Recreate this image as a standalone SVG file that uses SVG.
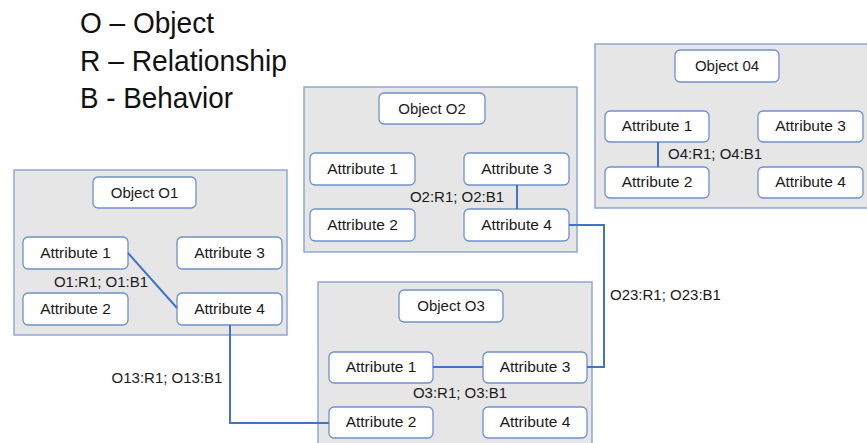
<svg xmlns="http://www.w3.org/2000/svg" width="867" height="443" viewBox="0 0 867 443">
<style>
.bg{fill:#fff}
.cont{fill:#e6e6e6;stroke:#8ea6d6;stroke-width:1.5}
.box{fill:#fff;stroke:#7090cc;stroke-width:1.3}
.t{font-family:"Liberation Sans",Arial,sans-serif;font-size:15px;fill:#1a1a1a;text-anchor:middle}
.l{font-family:"Liberation Sans",Arial,sans-serif;font-size:15px;fill:#1a1a1a}
.a{font-family:"Liberation Sans",Arial,sans-serif;font-size:15.5px;fill:#1a1a1a;text-anchor:middle}
.leg{font-family:"Liberation Sans",Arial,sans-serif;font-size:29px;fill:#111}
.c{fill:none;stroke:#4472c4;stroke-width:2}
</style>
<rect class="bg" x="0" y="0" width="867" height="443"/>
<g id="legend">
<text class="leg" x="80" y="33" textLength="134" lengthAdjust="spacingAndGlyphs">O – Object</text>
<text class="leg" x="80" y="71" textLength="207" lengthAdjust="spacingAndGlyphs">R – Relationship</text>
<text class="leg" x="80" y="108" textLength="153" lengthAdjust="spacingAndGlyphs">B - Behavior</text>
</g>
<g id="O1">
<rect class="cont" x="14" y="170" width="273" height="165"/>
<rect class="box" x="93" y="177" width="103" height="31" rx="5"/><text class="t" x="144.5" y="198">Object O1</text>
<rect class="box" x="23" y="237" width="105" height="32" rx="5"/><text class="a" x="75.5" y="258">Attribute 1</text>
<rect class="box" x="177" y="237" width="105" height="32" rx="5"/><text class="a" x="229.5" y="258">Attribute 3</text>
<rect class="box" x="23" y="293" width="105" height="32" rx="5"/><text class="a" x="75.5" y="314">Attribute 2</text>
<rect class="box" x="177" y="293" width="105" height="32" rx="5"/><text class="a" x="229.5" y="314">Attribute 4</text>
</g>
<g id="O2">
<rect class="cont" x="304" y="87" width="273" height="165"/>
<rect class="box" x="379" y="93" width="106" height="31" rx="5"/><text class="t" x="432" y="114">Object O2</text>
<rect class="box" x="310" y="153" width="105" height="32" rx="5"/><text class="a" x="362.5" y="174">Attribute 1</text>
<rect class="box" x="464" y="153" width="105" height="32" rx="5"/><text class="a" x="516.5" y="174">Attribute 3</text>
<rect class="box" x="310" y="209" width="105" height="32" rx="5"/><text class="a" x="362.5" y="230">Attribute 2</text>
<rect class="box" x="464" y="209" width="105" height="32" rx="5"/><text class="a" x="516.5" y="230">Attribute 4</text>
</g>
<g id="O3">
<rect class="cont" x="318" y="282" width="274" height="175"/>
<rect class="box" x="399" y="290" width="104" height="32" rx="5"/><text class="t" x="451" y="311">Object O3</text>
<rect class="box" x="329" y="352" width="104" height="31" rx="5"/><text class="a" x="381" y="372">Attribute 1</text>
<rect class="box" x="483" y="352" width="104" height="31" rx="5"/><text class="a" x="535" y="372">Attribute 3</text>
<rect class="box" x="329" y="407" width="104" height="31" rx="5"/><text class="a" x="381" y="427">Attribute 2</text>
<rect class="box" x="483" y="407" width="104" height="31" rx="5"/><text class="a" x="535" y="427">Attribute 4</text>
</g>
<g id="O4">
<rect class="cont" x="595" y="44" width="290" height="164"/>
<rect class="box" x="675" y="50" width="104" height="32" rx="5"/><text class="t" x="727" y="71">Object 04</text>
<rect class="box" x="605" y="111" width="104" height="31" rx="5"/><text class="a" x="657" y="131">Attribute 1</text>
<rect class="box" x="758" y="111" width="105" height="31" rx="5"/><text class="a" x="810.5" y="131">Attribute 3</text>
<rect class="box" x="605" y="167" width="104" height="31" rx="5"/><text class="a" x="657" y="187">Attribute 2</text>
<rect class="box" x="758" y="167" width="105" height="31" rx="5"/><text class="a" x="810.5" y="187">Attribute 4</text>
</g>
<g id="connectors">
<line class="c" x1="128" y1="253" x2="177" y2="308"/>
<text class="t" x="101" y="287">O1:R1; O1:B1</text>
<line class="c" x1="517" y1="185" x2="517" y2="209"/>
<text class="t" x="457" y="202">O2:R1; O2:B1</text>
<line class="c" x1="433" y1="367" x2="483" y2="367"/>
<text class="t" x="460" y="398">O3:R1; O3:B1</text>
<line class="c" x1="658" y1="142" x2="658" y2="167"/>
<text class="l" x="668" y="159">O4:R1; O4:B1</text>
<polyline class="c" points="230,325 230,423 329,423"/>
<text class="t" x="167" y="383">O13:R1; O13:B1</text>
<polyline class="c" points="587,367 604,367 604,225 569,225"/>
<text class="l" x="610" y="300">O23:R1; O23:B1</text>
</g>
</svg>
